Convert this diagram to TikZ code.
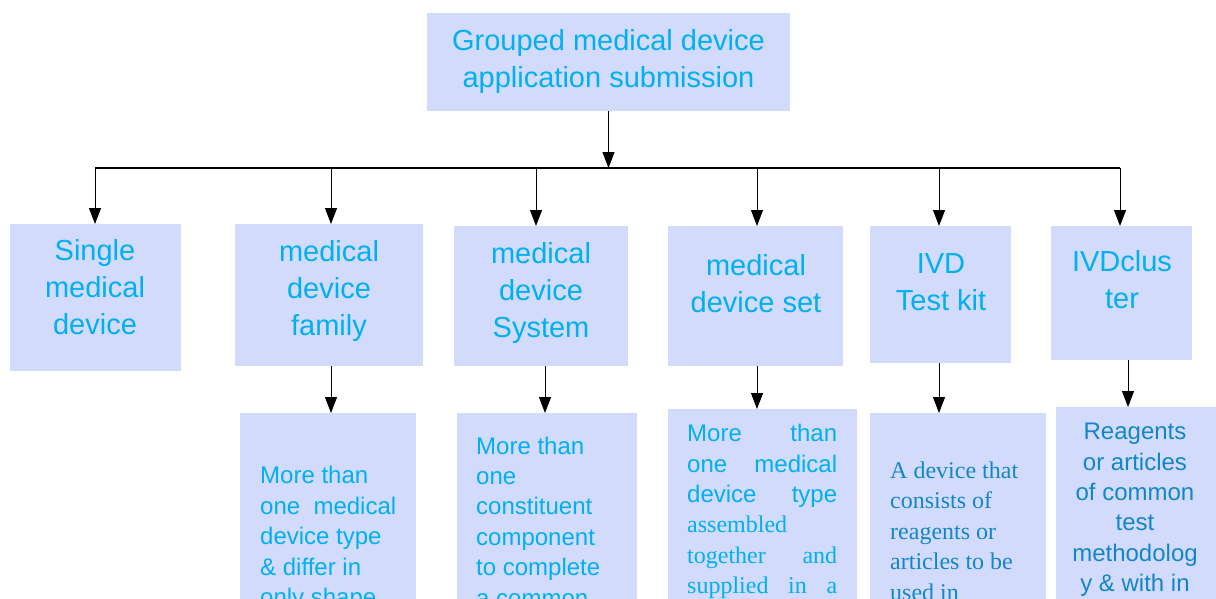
\documentclass[tikz,border=0pt]{standalone}
\usepackage{fontspec}
\setmainfont{Liberation Sans}
\newfontfamily\serifrm{Liberation Serif}
\usetikzlibrary{arrows.meta}
\definecolor{boxfill}{RGB}{211,219,253}
\definecolor{txtcyan}{RGB}{0,176,240}
\definecolor{txtteal}{RGB}{18,134,198}
\tikzset{
  box/.style={fill=boxfill, draw=none, inner sep=0pt, outer sep=0pt},
  bigtext/.style={font=\fontsize{29}{37}\selectfont, text=txtcyan, align=center, inner sep=0pt},
  smalltext/.style={font=\fontsize{24}{30.4}\selectfont, text=txtcyan, align=left, inner sep=0pt},
  arr/.style={-{Triangle[width=12pt,length=16pt]}, line width=1pt, black},
}
\begin{document}
\begin{tikzpicture}[x=1pt, y=-1pt]
\useasboundingbox (0,0) rectangle (1216,598);
\clip (0,0) rectangle (1216,598);

% root
\node[box, minimum width=363pt, minimum height=98pt] (root) at (608.5,62) {};
\node[bigtext] (rootlbl) at (608.5,61.5) {Grouped medical device\\application submission};

% second level
\node[box, minimum width=171pt, minimum height=147pt] (b1) at (95.5,297.5) {};
\node[box, minimum width=188pt, minimum height=142pt] (b2) at (329,295) {};
\node[box, minimum width=174pt, minimum height=140pt] (b3) at (541,296) {};
\node[box, minimum width=175pt, minimum height=140pt] (b4) at (755.5,296) {};
\node[box, minimum width=141pt, minimum height=137pt] (b5) at (940.5,294.5) {};
\node[box, minimum width=141pt, minimum height=134pt] (b6) at (1121.5,293) {};

\node[bigtext] (b1lbl) at (95,287.5) {Single\\medical\\device};
\node[bigtext] (b2lbl) at (329,290.5) {medical\\device\\family};
\node[bigtext] (b3lbl) at (541,292.5) {medical\\device\\System};
\node[bigtext] (b4lbl) at (756,283.5) {medical\\device set};
\node[bigtext] (b5lbl) at (941,282.5) {IVD\\Test kit};
\node[bigtext] (b6lbl) at (1122,280) {IVDclus\\ter};

% third level
\node[box, minimum width=176pt, minimum height=227pt] (c1) at (328,526.5) {};
\node[box, minimum width=180pt, minimum height=227pt] (c2) at (547,526.5) {};
\node[box, minimum width=189pt, minimum height=231pt] (c3) at (762.5,524.5) {};
\node[box, minimum width=176pt, minimum height=227pt] (c4) at (958,526.5) {};
\node[box, minimum width=174pt, minimum height=233pt] (c5) at (1143,523.5) {};

\node[smalltext, anchor=west] (c1lbl) at (260,538.5)
  {More than\\one\ \ medical\\device type\\\& differ in\\only shape};
\node[smalltext, anchor=west] (c2lbl) at (476,521.5)
  {More than\\one\\constituent\\component\\to complete\\a common};
\node[smalltext, anchor=west] (c3lbl) at (687,511.5)
  {\makebox[150pt][s]{More\hfill than}\\
   \makebox[150pt][s]{one\hfill medical}\\
   \makebox[150pt][s]{device\hfill type}\\
   {\serifrm assembled}\\
   \makebox[150pt][s]{\serifrm together\hfill and}\\
   \makebox[150pt][s]{\serifrm supplied\hfill in\hfill a}};
\node[smalltext, anchor=west, text=txtteal, font=\serifrm\fontsize{24}{30.5}\selectfont] (c4lbl) at (890,531)
  {A device that\\consists of\\reagents or\\articles to be\\used in};
\node[smalltext, align=center, text=txtteal] (c5lbl) at (1135,510)
  {Reagents\\or articles\\of common\\test\\methodolog\\y \& with in};

% connectors
\coordinate (j1) at (95,168);
\coordinate (j2) at (331,168);
\coordinate (j3) at (536,168);
\coordinate (j4) at (757,168);
\coordinate (j5) at (939,168);
\coordinate (j6) at (1120,168);
\draw[line width=1.3pt] (j1) -- (j6);
\draw[arr] (root.south) -- (root.south |- j1);
\draw[arr] (j1) -- (j1 |- b1.north);
\draw[arr] (j2) -- (j2 |- b2.north);
\draw[arr] (j3) -- (j3 |- b3.north);
\draw[arr] (j4) -- (j4 |- b4.north);
\draw[arr] (j5) -- (j5 |- b5.north);
\draw[arr] (j6) -- (j6 |- b6.north);

\draw[arr] (331,0 |- b2.south) -- (331,0 |- c1.north);
\draw[arr] (545,0 |- b3.south) -- (545,0 |- c2.north);
\draw[arr] (757,0 |- b4.south) -- (757,0 |- c3.north);
\draw[arr] (939,0 |- b5.south) -- (939,0 |- c4.north);
\draw[arr] (1128,0 |- b6.south) -- (1128,0 |- c5.north);
\end{tikzpicture}
\end{document}
